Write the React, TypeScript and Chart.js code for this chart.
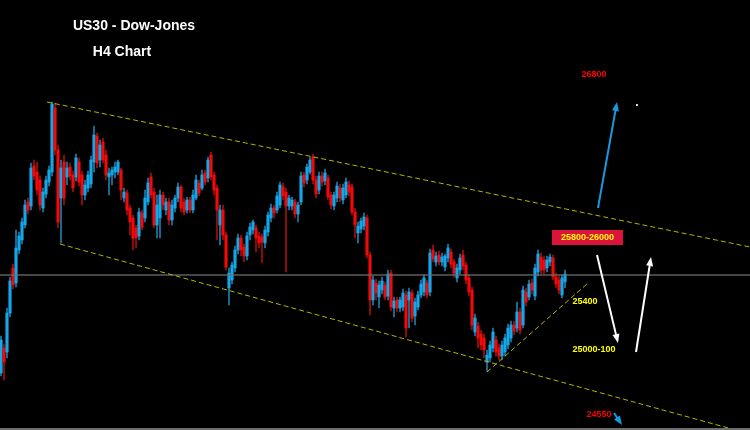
import React, { useEffect, useRef } from "react";
import { Chart, registerables } from "chart.js";

Chart.register(...registerables);

// ---- Candle data (US30 H4) ----
const opens = [
  25135, 25260, 25240, 25435, 25660, 25585, 25750, 25800, 25875, 25990,
  25970, 26170, 26140, 26100, 25960, 26030, 26090, 26140, 26460, 26250,
  26010, 26190, 26115, 26165, 26125, 26115, 26190, 26125, 26025, 26060,
  26080, 26190, 26320, 26200, 26290, 26225, 26115, 26125, 26140, 26140,
  26150, 26010, 26035, 25960, 25910, 25860, 25820, 25935, 25910, 25990,
  26115, 26040, 25875, 25910, 26025, 25950, 25990, 25900, 25960, 26010,
  26065, 25990, 25950, 26000, 25950, 26010, 26085, 26060, 26135, 26110,
  26225, 26125, 26060, 25875, 25950, 25825, 25560, 25600, 25660, 25750,
  25810, 25765, 25720, 25825, 25850, 25860, 25820, 25815, 25785, 25840,
  25910, 25960, 25950, 25975, 26065, 26040, 25970, 25970, 25990, 25930,
  25990, 26125, 26100, 26140, 26215, 26100, 26050, 26120, 26095, 26110,
  26025, 25970, 26010, 26060, 26000, 26025, 26075, 26065, 25940, 25835,
  25855, 25870, 25910, 25725, 25500, 25585, 25515, 25550, 25575, 25520,
  25635, 25460, 25500, 25460, 25465, 25525, 25500, 25535, 25420, 25465,
  25525, 25540, 25585, 25540, 25750, 25690, 25725, 25690, 25665, 25710,
  25740, 25690, 25610, 25650, 25725, 25675, 25610, 25550, 25340, 25370,
  25330, 25310, 25190, 25210, 25260, 25300, 25260, 25220, 25240, 25275,
  25310, 25375, 25360, 25440, 25375, 25540, 25515, 25585, 25520, 25640,
  25715, 25700, 25660, 25690, 25710, 25615, 25600, 25525, 25590,
];

const highs = [
  25320, 25280, 25460, 25615, 25680, 25850, 25840, 25910, 26000, 26010,
  26185, 26200, 26190, 26120, 26060, 26120, 26170, 26490, 26485, 26275,
  26200, 26225, 26190, 26185, 26145, 26230, 26210, 26145, 26100, 26145,
  26220, 26370, 26335, 26300, 26310, 26250, 26160, 26165, 26190, 26200,
  26160, 26060, 26050, 25975, 25925, 25875, 25960, 25950, 26050, 26110,
  26135, 26060, 26025, 26050, 26040, 26010, 26010, 26000, 26025, 26085,
  26075, 26010, 26015, 26015, 26050, 26125, 26100, 26150, 26150, 26215,
  26240, 26140, 26075, 25975, 25975, 25840, 25660, 25690, 25770, 25830,
  25825, 25780, 25840, 25885, 25900, 25875, 25840, 25830, 25870, 25940,
  25980, 25975, 26040, 26090, 26085, 26060, 26025, 26015, 26005, 25990,
  26140, 26140, 26180, 26215, 26230, 26120, 26140, 26140, 26155, 26125,
  26040, 26040, 26090, 26080, 26080, 26110, 26095, 26080, 25960, 25890,
  25910, 25935, 25925, 25740, 25620, 25605, 25595, 25615, 25590, 25650,
  25650, 25515, 25515, 25515, 25555, 25545, 25560, 25550, 25510, 25545,
  25600, 25625, 25600, 25755, 25775, 25740, 25745, 25735, 25730, 25780,
  25755, 25705, 25680, 25730, 25750, 25690, 25625, 25565, 25430, 25390,
  25350, 25330, 25250, 25295, 25360, 25320, 25280, 25295, 25330, 25380,
  25395, 25395, 25490, 25460, 25570, 25560, 25600, 25605, 25680, 25750,
  25735, 25720, 25720, 25730, 25725, 25635, 25620, 25625, 25650,
];

const lows = [
  25120, 25100, 25210, 25415, 25555, 25565, 25730, 25780, 25860, 25930,
  25950, 26100, 26025, 25950, 25940, 26010, 26070, 26120, 26225, 25860,
  25785, 25975, 26075, 26100, 26040, 26095, 26070, 25975, 26000, 26040,
  26060, 26140, 26160, 26165, 26185, 26100, 26025, 26075, 26110, 26125,
  26000, 25990, 25925, 25825, 25750, 25760, 25800, 25850, 25890, 25975,
  26010, 25860, 25810, 25810, 25950, 25925, 25875, 25875, 25940, 25990,
  25940, 25925, 25935, 25935, 25935, 26000, 26020, 26050, 26075, 26090,
  26100, 26025, 25800, 25775, 25800, 25650, 25475, 25580, 25640, 25730,
  25720, 25690, 25700, 25800, 25830, 25740, 25760, 25685, 25760, 25820,
  25890, 25910, 25935, 25960, 26000, 25640, 25950, 25950, 25910, 25890,
  25975, 26065, 26080, 26130, 26080, 26010, 26030, 26070, 26075, 26000,
  25955, 25950, 25990, 25990, 25980, 26010, 26020, 25925, 25810, 25785,
  25835, 25850, 25710, 25425, 25475, 25500, 25460, 25530, 25500, 25500,
  25445, 25415, 25440, 25440, 25445, 25315, 25360, 25390, 25375, 25450,
  25510, 25520, 25510, 25520, 25690, 25670, 25675, 25670, 25645, 25690,
  25660, 25615, 25590, 25630, 25650, 25580, 25520, 25350, 25320, 25260,
  25250, 25210, 25145, 25190, 25240, 25220, 25200, 25200, 25220, 25255,
  25290, 25325, 25340, 25330, 25360, 25470, 25500, 25530, 25500, 25620,
  25630, 25630, 25640, 25670, 25600, 25560, 25530, 25510, 25560,
];

const closes = [
  25300, 25190, 25435, 25595, 25575, 25760, 25820, 25890, 25975, 25950,
  26160, 26120, 26050, 25975, 26040, 26100, 26150, 26480, 26250, 25890,
  26160, 26010, 26160, 26120, 26060, 26210, 26090, 26025, 26075, 26125,
  26200, 26325, 26185, 26275, 26200, 26125, 26135, 26150, 26165, 26190,
  26050, 26040, 25950, 25890, 25810, 25810, 25940, 25865, 26010, 26085,
  26025, 25875, 25975, 26025, 25975, 25990, 25900, 25975, 26010, 26065,
  25960, 25940, 26000, 25950, 26025, 26100, 26035, 26125, 26090, 26200,
  26115, 26050, 25950, 25950, 25825, 25665, 25635, 25675, 25750, 25810,
  25750, 25720, 25820, 25865, 25890, 25810, 25785, 25790, 25850, 25925,
  25960, 25935, 26020, 26075, 26020, 25970, 26010, 26000, 25930, 25975,
  26120, 26085, 26165, 26200, 26100, 26030, 26120, 26090, 26135, 26015,
  25975, 26025, 26070, 26010, 26060, 26090, 26040, 25940, 25875, 25870,
  25895, 25915, 25725, 25500, 25600, 25535, 25575, 25595, 25515, 25630,
  25465, 25495, 25460, 25500, 25535, 25360, 25540, 25410, 25490, 25525,
  25580, 25610, 25525, 25735, 25705, 25720, 25690, 25715, 25720, 25760,
  25680, 25635, 25660, 25710, 25670, 25600, 25540, 25375, 25410, 25310,
  25275, 25250, 25225, 25275, 25340, 25240, 25220, 25275, 25310, 25360,
  25375, 25345, 25440, 25350, 25550, 25490, 25580, 25550, 25660, 25730,
  25650, 25650, 25700, 25715, 25615, 25580, 25550, 25610, 25630,
];

// ---- Drawn lines (bar index, price) ----
const upperChannel = [
  { x: 15.33, y: 26490 },
  { x: 249.67, y: 25765 },
];
const lowerChannel = [
  { x: 19.67, y: 25780 },
  { x: 249.67, y: 24830 },
];
const supportLine = [
  { x: 162, y: 25140 },
  { x: 195.67, y: 25585 },
];
const currentPrice = 25625;

// ---- Annotation arrows / labels (bar index, price) ----
const arrows = [
  { from: [199, 25960], to: [205.33, 26490], color: "#1a98dc", width: 2 },
  { from: [198.67, 25725], to: [205.67, 25285], color: "#ffffff", width: 2 },
  { from: [211.67, 25240], to: [216.67, 25715], color: "#ffffff", width: 2 },
  { from: [204.33, 24935], to: [207, 24875], color: "#1a98dc", width: 2 },
];
const labels = [
  { x: 44.33, y: 26870, text: "US30 - Dow-Jones", color: "#ffffff", size: 14 },
  { x: 40.33, y: 26740, text: "H4 Chart", color: "#ffffff", size: 14 },
  { x: 197.67, y: 26625, text: "26800", color: "#ff0000", size: 9 },
  { x: 195.5, y: 25812, text: "25800-26000", color: "#ffff00", size: 9 },
  { x: 194.67, y: 25490, text: "25400", color: "#ffff00", size: 9 },
  { x: 197.67, y: 25250, text: "25000-100", color: "#ffff00", size: 9 },
  { x: 199.33, y: 24925, text: "24550", color: "#ff0000", size: 9 },
];
const targetBox = { x1: 183.67, x2: 207.33, y1: 25850, y2: 25775 };
const dot = { x: 212, y: 26475 };

const BULL = "#14a8ea";
const BEAR = "#f20a0a";
const BULL_WICK = "#1c7fae";
const BEAR_WICK = "#a80e0e";
const FONT = '"Liberation Sans", Arial, sans-serif';

const overlayPlugin = {
  id: "overlay",
  afterDatasetsDraw(chart: any) {
    const { ctx } = chart;
    const xs = chart.scales.x;
    const ys = chart.scales.y;
    const px = (v: number) => xs.getPixelForValue(v);
    const py = (v: number) => ys.getPixelForValue(v);
    ctx.save();

    // target box
    ctx.fillStyle = "#dc143c";
    const bx = px(targetBox.x1);
    const by = py(targetBox.y1);
    ctx.fillRect(bx, by, px(targetBox.x2) - bx, py(targetBox.y2) - by);

    // arrows
    for (const a of arrows) {
      const x1 = px(a.from[0]);
      const y1 = py(a.from[1]);
      const x2 = px(a.to[0]);
      const y2 = py(a.to[1]);
      const ang = Math.atan2(y2 - y1, x2 - x1);
      const headLen = 9;
      const headW = 3.5;
      ctx.strokeStyle = a.color;
      ctx.fillStyle = a.color;
      ctx.lineWidth = a.width;
      ctx.beginPath();
      ctx.moveTo(x1, y1);
      ctx.lineTo(x2 - Math.cos(ang) * headLen * 0.7, y2 - Math.sin(ang) * headLen * 0.7);
      ctx.stroke();
      const bx2 = x2 - Math.cos(ang) * headLen;
      const by2 = y2 - Math.sin(ang) * headLen;
      ctx.beginPath();
      ctx.moveTo(x2, y2);
      ctx.lineTo(bx2 + Math.sin(ang) * headW, by2 - Math.cos(ang) * headW);
      ctx.lineTo(bx2 - Math.sin(ang) * headW, by2 + Math.cos(ang) * headW);
      ctx.closePath();
      ctx.fill();
    }

    // dot
    ctx.fillStyle = "#dddddd";
    ctx.fillRect(px(dot.x) - 1, py(dot.y) - 1, 2, 2);

    // labels
    ctx.textAlign = "center";
    ctx.textBaseline = "middle";
    for (const l of labels) {
      ctx.font = `bold ${l.size}px ${FONT}`;
      ctx.fillStyle = l.color;
      ctx.fillText(l.text, px(l.x), py(l.y));
    }
    ctx.restore();
  },
};

export default function App() {
  const canvasRef = useRef<HTMLCanvasElement | null>(null);

  useEffect(() => {
    const canvas = canvasRef.current;
    if (!canvas) return;
    const idx = opens.map((_, i) => i);
    const isBull = idx.map((i) => closes[i] >= opens[i]);

    const chart = new Chart(canvas, {
      type: "bar",
      data: {
        datasets: [
          {
            type: "line",
            label: "upper",
            data: upperChannel,
            borderColor: "#b4b400",
            borderWidth: 1,
            borderDash: [5, 3],
            pointRadius: 0,
            order: 1,
          } as any,
          {
            type: "line",
            label: "lower",
            data: lowerChannel,
            borderColor: "#b4b400",
            borderWidth: 1,
            borderDash: [5, 3],
            pointRadius: 0,
            order: 1,
          } as any,
          {
            type: "line",
            label: "support",
            data: supportLine,
            borderColor: "#b4b400",
            borderWidth: 1,
            borderDash: [5, 3],
            pointRadius: 0,
            order: 1,
          } as any,
          {
            type: "line",
            label: "price",
            data: [
              { x: -0.33, y: currentPrice },
              { x: 249.67, y: currentPrice },
            ],
            borderColor: "rgba(110,110,110,0.85)",
            borderWidth: 1.5,
            pointRadius: 0,
            order: 2,
          } as any,
          {
            type: "bar",
            label: "bodies",
            data: idx.map((i) => ({ x: i, y: [opens[i], closes[i]] })),
            backgroundColor: isBull.map((b) => (b ? BULL : BEAR)),
            barThickness: 2.5,
            grouped: false,
            order: 3,
          } as any,
          {
            type: "bar",
            label: "wicks",
            data: idx.map((i) => ({ x: i, y: [lows[i], highs[i]] })),
            backgroundColor: isBull.map((b) => (b ? BULL_WICK : BEAR_WICK)),
            barThickness: 1,
            grouped: false,
            order: 4,
          } as any,
        ],
      },
      options: {
        responsive: false,
        animation: false,
        devicePixelRatio: 1,
        events: [],
        layout: { padding: 0 },
        plugins: {
          legend: { display: false },
          tooltip: { enabled: false },
          title: { display: false },
        },
        scales: {
          x: {
            type: "linear",
            min: -1 / 3,
            max: 250 - 1 / 3,
            display: false,
            offset: false,
            grid: { offset: false },
          },
          y: {
            type: "linear",
            min: 24860,
            max: 27000,
            display: false,
            beginAtZero: false,
          },
        },
      } as any,
      plugins: [overlayPlugin],
    });
    return () => chart.destroy();
  }, []);

  return (
    <div
      style={{
        position: "fixed",
        left: 0,
        top: 0,
        width: 750,
        height: 430,
        background: "#000",
        overflow: "hidden",
      }}
    >
      <canvas ref={canvasRef} width={750} height={428} style={{ display: "block" }} />
      <div style={{ height: 2, background: "#6e6e6e" }} />
    </div>
  );
}
